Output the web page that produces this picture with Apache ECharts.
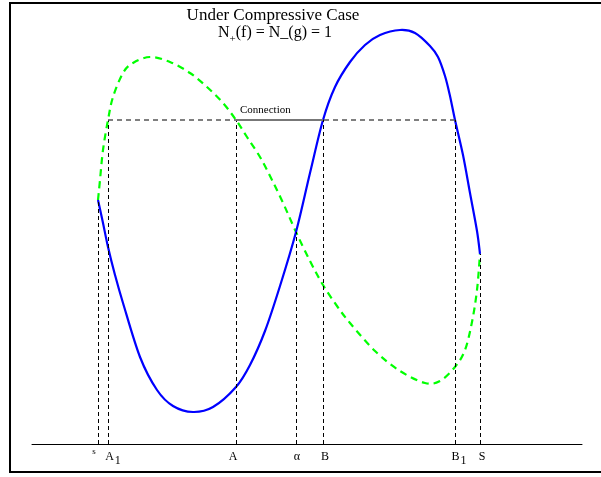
<!DOCTYPE html>
<html><head><meta charset="utf-8">
<script src="https://cdn.jsdelivr.net/npm/echarts@6/dist/echarts.min.js"></script>
<style>html,body{margin:0;padding:0;background:#fff}#c{width:601px;height:477px}</style>
</head><body><div id="c"></div>
<script>
// Curve data (x along axis, y height above axis)
var blueX = [66,71,76,83,91,108,125,141,161,181,204,218,233,248,264,278,291,303,318,333,348,368,383,398,406,413,418,423,431,438,445,448];
var blueY = [244,221,197,169,141,87,54,38,32,37,57,79,113,158,212,271,324,357,382,399,409,414,411,398,387,368,348,324,289,251,213,190];
var greenX = [66,68,71,76,81,91,101,118,138,158,175,191,204,215,228,240,252,264,278,291,305,318,343,368,393,408,423,433,440,445,448];
var greenY = [244,264,294,324,347,371,381,387,382,371,357,341,324,307,287,264,239,212,183,159,138,121,93,73,61,63,77,94,122,154,190];
// marker positions and labels
var markNames = ['s','A1','A','α','B','B1','S'];
var markX = [66,76,204,264,291,423,448];
var markH = [244,324,324,212,324,324,190];
var markLabelShift = [-1,5,-3,1,2,4,2];
var markLabelDy = [-4,0,0,0,0,0,0];
var connY = 324, connFrom = 76, connTo = 423, connSolidFrom = 204, connSolidTo = 291;
var titleLine1 = 'Under Compressive Case';

var serif = "'Liberation Serif', 'DejaVu Serif', serif";

function labelFor(name){
  var m = name.match(/^([A-Z])(\d)$/);
  if (m) return '{n|' + m[1] + '}{sub|' + m[2] + '}';
  if (name === 's') return '{s|s}';
  return '{n|' + name + '}';
}
var rich = {
  n: {fontFamily: serif, fontSize: 12, color: '#000', lineHeight: 14, verticalAlign: 'top'},
  sub: {fontFamily: serif, fontSize: 12, color: '#000', lineHeight: 14, padding: [4,0,0,1], verticalAlign: 'top'},
  s: {fontFamily: serif, fontSize: 9, color: '#000', lineHeight: 14, padding: [0,6,0,0], verticalAlign: 'top'}
};

var vLines = markNames.map(function(nm, i){
  return [{coord: [markX[i], 0], label: {show: true, position: 'start', distance: 7, offset: [markLabelShift[i], markLabelDy[i]], formatter: labelFor(nm), rich: rich}},
          {coord: [markX[i], markH[i]]}];
});

// smooth curve through the data points, positioned by the chart's own axes (api.coord)
function curveSeries(name, xs, ys, style, z){
  return {
    type: 'custom', name: name, z: z, silent: true,
    data: xs.map(function(x, i){ return [x, ys[i]]; }),
    renderItem: function(params, api){
      if (params.dataIndex !== 0) return null;
      var p = xs.map(function(x, i){ return api.coord([x, ys[i]]); });
      var d = 'M' + p[0][0] + ' ' + p[0][1];
      for (var i = 0; i < p.length - 1; i++) {
        var p0 = p[Math.max(i - 1, 0)], p1 = p[i], p2 = p[i + 1], p3 = p[Math.min(i + 2, p.length - 1)];
        var c1x = p1[0] + (p2[0] - p0[0]) / 6, c1y = p1[1] + (p2[1] - p0[1]) / 6;
        var c2x = p2[0] - (p3[0] - p1[0]) / 6, c2y = p2[1] - (p3[1] - p1[1]) / 6;
        d += ' C' + c1x + ' ' + c1y + ' ' + c2x + ' ' + c2y + ' ' + p2[0] + ' ' + p2[1];
      }
      return {type: 'path', shape: {pathData: d}, style: style};
    }
  };
}

var chart = echarts.init(document.getElementById('c'), null, {renderer: 'canvas'});
chart.setOption({
  animation: false,
  backgroundColor: '#fff',
  grid: {left: 32, right: 19, top: 0, bottom: 33, containLabel: false},
  xAxis: {type: 'value', min: 0, max: 550, axisLine: {show: true, onZero: false, lineStyle: {color: '#000', width: 1}},
          axisTick: {show: false}, axisLabel: {show: false}, splitLine: {show: false}},
  yAxis: {type: 'value', min: 0, max: 444, show: false, splitLine: {show: false}},
  graphic: [
    {type: 'rect', shape: {x: 10, y: 3, width: 620, height: 469}, style: {fill: 'none', stroke: '#000', lineWidth: 2}, silent: true},
    {type: 'text', x: 273, y: 16, style: {text: titleLine1, font: '17px ' + serif, fill: '#000', align: 'center', verticalAlign: 'middle'}},
    {type: 'text', x: 275, y: 34, style: {
      text: '{n|N}{sub|+}{n|(f) = N_(g) = 1}', align: 'center', verticalAlign: 'middle',
      rich: {
        n: {fontFamily: serif, fontSize: 16, color: '#000', lineHeight: 18, verticalAlign: 'top'},
        sub: {fontFamily: serif, fontSize: 11, color: '#000', lineHeight: 18, padding: [9,0,0,0], verticalAlign: 'top'}
      }}}
  ],
  series: [
    {type: 'line', name: 'marks', data: [], symbol: 'none', silent: true,
     markLine: {silent: true, symbol: 'none', animation: false,
       lineStyle: {color: '#000', type: [4,3], width: 1},
       data: vLines.concat([
         [{coord: [connFrom, connY], lineStyle: {color: '#555', type: [5,4], width: 1.5}, label: {show: false}}, {coord: [connTo, connY]}],
         [{coord: [connSolidFrom, connY], lineStyle: {color: '#777', type: 'solid', width: 2},
           label: {show: true, position: 'insideStartTop', distance: 4, formatter: 'Connection', color: '#000', fontFamily: serif, fontSize: 11}},
          {coord: [connSolidTo, connY]}]
       ])}},
    curveSeries('g', greenX, greenY, {fill: 'none', stroke: '#00ff00', lineWidth: 2.2, lineDash: [7, 5]}, 3),
    curveSeries('f', blueX, blueY, {fill: 'none', stroke: '#0000ff', lineWidth: 2.2}, 4)
  ]
});
</script></body></html>
